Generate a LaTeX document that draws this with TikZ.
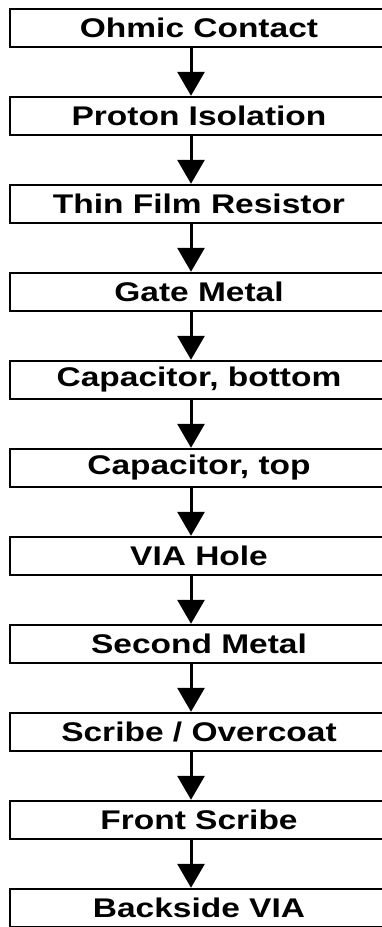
\documentclass[tikz,border=0pt]{standalone}
\usepackage{fontspec}
\setmainfont{Liberation Sans}
\usetikzlibrary{arrows.meta}
\tikzset{
  stepbox/.style = {rectangle, draw, line width=2.4pt, minimum width=420pt,
                    minimum height=38pt, inner sep=0pt,
                    font=\fontsize{27}{29}\selectfont\bfseries,
                    execute at begin node={\hspace*{-42pt}}},
  flow/.style    = {line width=3pt, -{Triangle[width=27pt, length=24pt]}},
}
\newcommand{\wide}[1]{\scalebox{1.24}[1]{#1}}

\begin{document}
\begin{tikzpicture}[x=1pt, y=-1pt]

  \useasboundingbox (0,0) rectangle (382,927);
  \clip (0,0) rectangle (382,927);

  % process steps (boxes run off the right edge)
  \node[stepbox] (ohm)    at (220,28)  {\wide{Ohmic Contact}};
  \node[stepbox] (iso)    at (220,116) {\wide{Proton Isolation}};
  \node[stepbox] (tfr)    at (220,204) {\wide{Thin Film Resistor}};
  \node[stepbox] (gate)   at (220,292) {\wide{Gate Metal}};
  \node[stepbox] (capb)   at (220,380) {\wide{Capacitor, bottom}};
  \node[stepbox] (capt)   at (220,468) {\wide{Capacitor, top}};
  \node[stepbox] (via)    at (220,556) {\wide{VIA Hole}};
  \node[stepbox] (met2)   at (220,644) {\wide{Second Metal}};
  \node[stepbox] (scribe) at (220,732) {\wide{Scribe / Overcoat}};
  \node[stepbox] (front)  at (220,820) {\wide{Front Scribe}};
  \node[stepbox] (back)   at (220,908) {\wide{Backside VIA}};

  % flow
  \draw[flow] ([xshift=-29pt]ohm.south)    -- ([xshift=-29pt]iso.north);
  \draw[flow] ([xshift=-29pt]iso.south)    -- ([xshift=-29pt]tfr.north);
  \draw[flow] ([xshift=-29pt]tfr.south)    -- ([xshift=-29pt]gate.north);
  \draw[flow] ([xshift=-29pt]gate.south)   -- ([xshift=-29pt]capb.north);
  \draw[flow] ([xshift=-29pt]capb.south)   -- ([xshift=-29pt]capt.north);
  \draw[flow] ([xshift=-29pt]capt.south)   -- ([xshift=-29pt]via.north);
  \draw[flow] ([xshift=-29pt]via.south)    -- ([xshift=-29pt]met2.north);
  \draw[flow] ([xshift=-29pt]met2.south)   -- ([xshift=-29pt]scribe.north);
  \draw[flow] ([xshift=-29pt]scribe.south) -- ([xshift=-29pt]front.north);
  \draw[flow] ([xshift=-29pt]front.south)  -- ([xshift=-29pt]back.north);

\end{tikzpicture}
\end{document}
